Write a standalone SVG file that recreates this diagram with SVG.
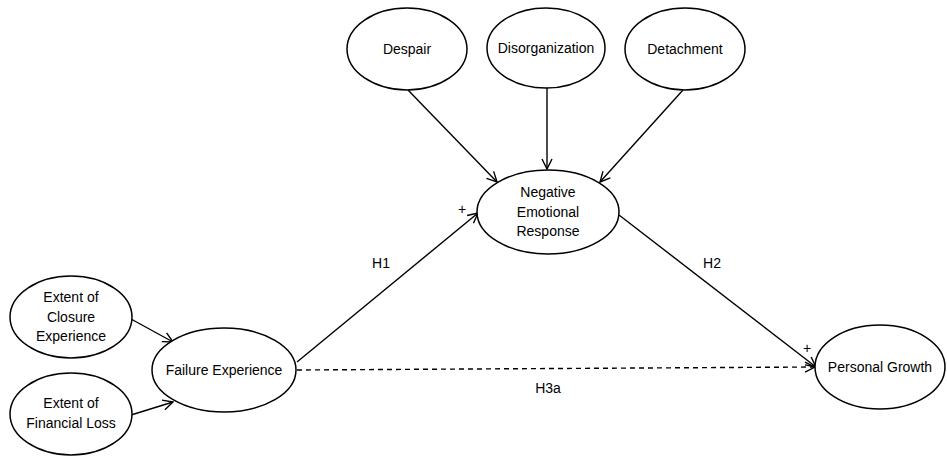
<svg xmlns="http://www.w3.org/2000/svg" width="947" height="458" viewBox="0 0 947 458">
<style>
.n{fill:#fff;stroke:#000;stroke-width:1.5}
.t{font-family:"Liberation Sans",Arial,sans-serif;font-size:14px;fill:#000;text-anchor:middle}
.c{stroke:#000;stroke-width:1.4;fill:none}
.d{stroke-dasharray:5,4}
</style>
<defs>
<marker id="a" viewBox="0 0 12 12" refX="11" refY="6" markerWidth="12" markerHeight="12" markerUnits="userSpaceOnUse" orient="auto">
<polyline points="1,1 11,6 1,11" fill="none" stroke="#000" stroke-width="1.4"/>
</marker>
</defs>
<rect width="947" height="458" fill="#fff"/>
<g id="connectors">
<line class="c" x1="408" y1="90" x2="497" y2="182" marker-end="url(#a)"/>
<line class="c" x1="547" y1="88" x2="547" y2="169" marker-end="url(#a)"/>
<line class="c" x1="683" y1="90" x2="600" y2="182" marker-end="url(#a)"/>
<line class="c" x1="297" y1="362" x2="478" y2="213" marker-end="url(#a)"/>
<line class="c" x1="619" y1="215" x2="816" y2="367" marker-end="url(#a)"/>
<line class="c d" x1="297" y1="370" x2="815" y2="367" marker-end="url(#a)"/>
<line class="c" x1="131" y1="319" x2="173" y2="342" marker-end="url(#a)"/>
<line class="c" x1="131" y1="415" x2="173" y2="402" marker-end="url(#a)"/>
<text class="t" x="381" y="268">H1</text>
<text class="t" x="712" y="268">H2</text>
<text class="t" x="548" y="393">H3a</text>
<text class="t" x="462" y="214" font-size="12">+</text>
<text class="t" x="807" y="353" font-size="12">+</text>
</g>
<g id="despair"><ellipse class="n" cx="407" cy="49" rx="60" ry="41"/><text class="t" x="407" y="54">Despair</text></g>
<g id="disorganization"><ellipse class="n" cx="546" cy="48" rx="59" ry="40"/><text class="t" x="546" y="53">Disorganization</text></g>
<g id="detachment"><ellipse class="n" cx="685" cy="49" rx="60" ry="41"/><text class="t" x="685" y="54">Detachment</text></g>
<g id="ner"><ellipse class="n" cx="548" cy="212" rx="71" ry="42"/><text class="t" x="548" y="197">Negative</text><text class="t" x="548" y="217">Emotional</text><text class="t" x="548" y="236">Response</text></g>
<g id="closure"><ellipse class="n" cx="71" cy="317" rx="61" ry="41"/><text class="t" x="71" y="302">Extent of</text><text class="t" x="71" y="322">Closure</text><text class="t" x="71" y="341">Experience</text></g>
<g id="financial"><ellipse class="n" cx="71" cy="414" rx="61" ry="41"/><text class="t" x="71" y="408">Extent of</text><text class="t" x="71" y="428">Financial Loss</text></g>
<g id="failure"><ellipse class="n" cx="224" cy="370" rx="72" ry="42"/><text class="t" x="224" y="375">Failure Experience</text></g>
<g id="growth"><ellipse class="n" cx="880" cy="367" rx="65" ry="42"/><text class="t" x="880" y="372">Personal Growth</text></g>
</svg>
